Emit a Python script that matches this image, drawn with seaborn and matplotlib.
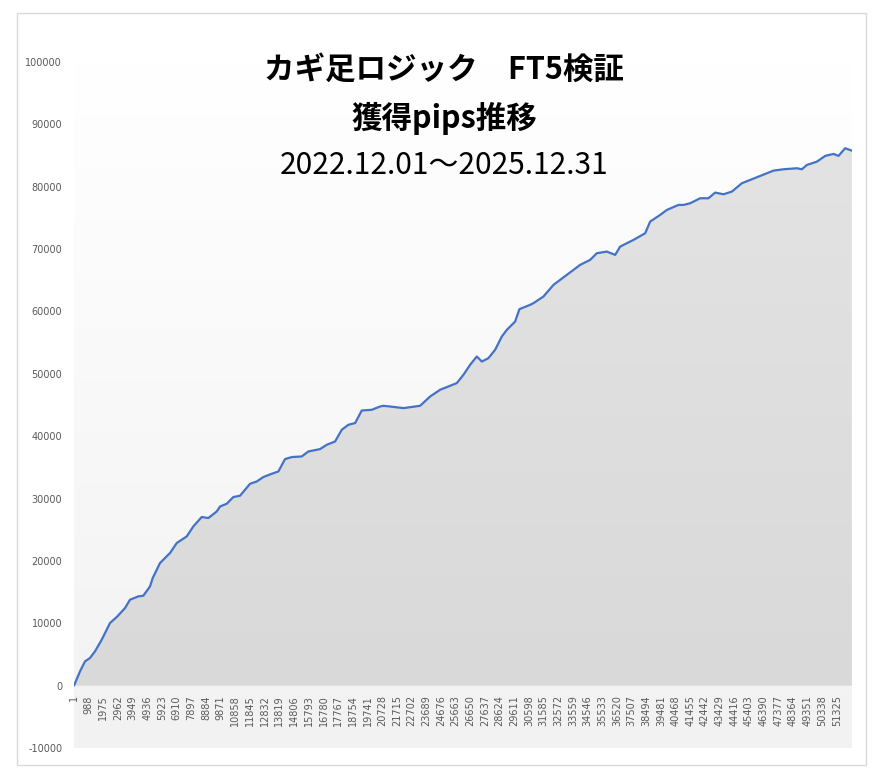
import numpy as np
import pandas as pd
import matplotlib
matplotlib.use('Agg')
import matplotlib.pyplot as plt
import matplotlib.patches as patches
from matplotlib.colors import LinearSegmentedColormap
import seaborn as sns

# --- DATA ---
trade_no = [
    1, 405, 741, 1077, 1414, 1865, 2201, 2423, 2874, 3432,
    3769, 4327, 4664, 5114, 5296, 5787, 6460, 6911, 7584, 8027,
    8593, 9036, 9601, 9824, 10275, 10719, 11170, 11843, 12294, 12738,
    13302, 13746, 14197, 14648, 15320, 15764, 16552, 17002, 17561, 18012,
    18456, 18907, 19357, 20030, 20588, 20810, 21261, 22156, 23280, 23952,
    24625, 25749, 26193, 26644, 27094, 27431, 27875, 28326, 28776, 29113,
    29671, 29961, 30681, 30903, 31576, 32249, 33150, 34045, 34718, 35168,
    35841, 36399, 36735, 37630, 38418, 38754, 39427, 39878, 40658, 40994,
    41443, 42116, 42674, 43125, 43684, 44249, 44922, 45480, 46153, 47048,
    47720, 48622, 48958, 49294, 49967, 50525, 51084, 51420, 51871, 52322,
]
cum_pips = [
    0, 2290, 3890, 4430, 5500, 7370, 8970, 10040, 11000, 12440,
    13780, 14310, 14420, 15910, 17260, 19660, 21270, 22870, 23930, 25530,
    27040, 26870, 27930, 28730, 29170, 30240, 30450, 32370, 32740, 33450,
    33970, 34340, 36330, 36650, 36750, 37550, 37930, 38620, 39150, 41030,
    41830, 42100, 44120, 44230, 44760, 44870, 44760, 44500, 44870, 46360,
    47440, 48510, 49840, 51440, 52780, 51970, 52510, 53850, 55980, 57050,
    58380, 60370, 61060, 61330, 62390, 64260, 65870, 67470, 68270, 69340,
    69600, 69070, 70400, 71470, 72540, 74410, 75480, 76280, 77080, 77080,
    77350, 78150, 78150, 79060, 78790, 79220, 80560, 81090, 81730, 82580,
    82800, 82960, 82800, 83490, 84020, 84940, 85260, 84940, 86170, 85780,
]
y_ticks = [-10000, 0, 10000, 20000, 30000, 40000, 50000,
           60000, 70000, 80000, 90000, 100000]
x_tick_step = 987  # Excel category label interval
x_ticks = list(range(1, 51326 + 1, x_tick_step))
title_lines = ['カギ足ロジック　FT5検証', '獲得pips推移', '2022.12.01～2025.12.31']

# --- THEME ---
sns.set_theme(style='white')
plt.rcParams['font.family'] = ['Noto Sans CJK JP', 'DejaVu Sans']

COLOR_LINE = '#4472c4'
COLOR_TICK = '#595959'

fig = plt.figure(figsize=(8.83, 7.8), dpi=100)
ax = fig.add_axes([74 / 883, 1 - 748 / 780, 778 / 883, 686 / 780])

df = pd.DataFrame({'trade': trade_no, 'pips': cum_pips})
x_max = 52330
y_min, y_max = -10000, 100000

# plot area background: white -> light gray
grad = np.linspace(0, 1, 256).reshape(-1, 1)
bg_cmap = LinearSegmentedColormap.from_list('bg', ['#ffffff', '#f2f2f2'])
ax.imshow(grad, extent=[1, x_max, y_min, y_max], aspect='auto',
          cmap=bg_cmap, origin='upper', zorder=0, interpolation='bilinear')

# area fill with a soft gray gradient, clipped to the area polygon
poly = ax.fill_between(df['trade'], 0, df['pips'], facecolor='none', edgecolor='none')
clip = patches.PathPatch(poly.get_paths()[0], transform=ax.transData,
                         facecolor='none', edgecolor='none')
ax.add_patch(clip)
area_cmap = LinearSegmentedColormap.from_list('area', ['#e3e3e3', '#d9d9d9'])
im = ax.imshow(grad, extent=[1, x_max, 0, max(cum_pips)], aspect='auto',
               cmap=area_cmap, origin='upper', zorder=1, interpolation='bilinear')
im.set_clip_path(clip)

sns.lineplot(data=df, x='trade', y='pips', color=COLOR_LINE, linewidth=1.6,
             ax=ax, zorder=3)

ax.set_xlim(1, x_max)
ax.set_ylim(y_min, y_max)
ax.set_xlabel('')
ax.set_ylabel('')

for side in ['top', 'right', 'left', 'bottom']:
    ax.spines[side].set_visible(False)
ax.spines['bottom'].set_position(('data', 0))

ax.set_xticks(x_ticks)
ax.set_xticklabels([str(t) for t in x_ticks], rotation=90, fontsize=7,
                   color=COLOR_TICK, family='DejaVu Sans')
ax.set_yticks(y_ticks)
ax.set_yticklabels([str(t) for t in y_ticks], fontsize=7, color=COLOR_TICK,
                   family='DejaVu Sans')
ax.tick_params(axis='x', length=0, pad=7)
ax.tick_params(axis='y', length=0, pad=8.5)
ax.grid(False)

# titles
fig.text(0.503, 1 - 70 / 780, title_lines[0], ha='center', va='center',
         fontsize=22, fontweight='bold', color='black')
fig.text(0.503, 1 - 118 / 780, title_lines[1], ha='center', va='center',
         fontsize=22, fontweight='bold', color='black')
fig.text(0.503, 1 - 165 / 780, title_lines[2], ha='center', va='center',
         fontsize=21.5, color='black')

# outer chart border
fig.patches.append(patches.Rectangle((17 / 883, 1 - 765 / 780), 849 / 883, 752 / 780,
                                     transform=fig.transFigure, fill=False,
                                     edgecolor='#d9d9d9', linewidth=1))

fig.savefig('out.png', dpi=100, facecolor='white')
